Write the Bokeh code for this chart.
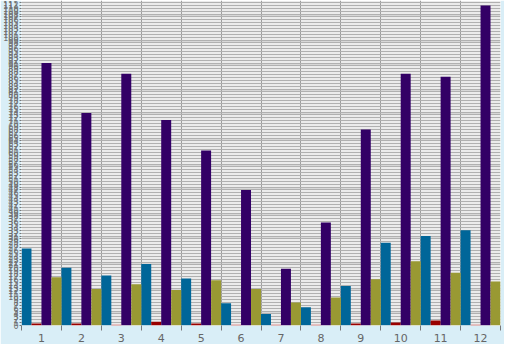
from bokeh.plotting import figure
from bokeh.models import ColumnDataSource, FixedTicker, Range1d
from bokeh.transform import dodge
from bokeh.embed import file_html
from bokeh.resources import INLINE

categories = ["1", "2", "3", "4", "5", "6", "7", "8", "9", "10", "11", "12"]
series_blue = [26.7, 20.0, 17.3, 21.3, 16.3, 7.7, 4.0, 6.3, 13.7, 28.7, 31.0, 33.0]
series_red = [0.7, 0.7, 0.3, 1.3, 0.7, 0.3, 0.3, 0.3, 0.7, 1.0, 1.7, 0.3]
series_purple = [91.0, 73.7, 87.3, 71.3, 60.7, 47.0, 19.7, 35.7, 68.0, 87.3, 86.3, 111.0]
series_olive = [16.7, 12.7, 14.3, 12.3, 15.7, 12.7, 8.0, 9.7, 16.0, 22.3, 18.3, 15.3]
y_ticks = list(range(0, 113))

centers = [i + 0.5 for i in range(len(categories))]
bounds = list(range(len(categories) + 1))

src = ColumnDataSource(dict(x=centers, blue=series_blue, red=series_red,
                            purple=series_purple, olive=series_olive))

BG = "#d9eef7"
p = figure(width=504, height=344, output_backend="svg", toolbar_location=None,
           x_range=Range1d(0, len(categories)), y_range=Range1d(0, 112.7),
           background_fill_color="white", border_fill_color=BG,
           min_border_left=17, min_border_right=4, min_border_top=0, min_border_bottom=18)
p.outline_line_color = None

w = 0.25
p.vbar(x=dodge("x", -0.375, range=p.x_range), top="blue", width=w, source=src,
       fill_color="#006699", line_color=None)
p.vbar(x=dodge("x", -0.125, range=p.x_range), top="red", width=w, source=src,
       fill_color="#990000", line_color=None)
p.vbar(x=dodge("x", 0.125, range=p.x_range), top="purple", width=w, source=src,
       fill_color="#330066", line_color=None)
p.vbar(x=dodge("x", 0.375, range=p.x_range), top="olive", width=w, source=src,
       fill_color="#999933", line_color=None)

# x axis: labels at centers, tick marks at category boundaries
xt = FixedTicker(ticks=centers, minor_ticks=bounds)
p.xaxis.ticker = xt
p.xaxis.major_label_overrides = {c: lab for c, lab in zip(centers, categories)}
p.xaxis.major_tick_out = 0
p.xaxis.major_tick_in = 0
p.xaxis.minor_tick_out = 5
p.xaxis.minor_tick_in = 0
p.xaxis.minor_tick_line_color = "#777777"
p.xaxis.axis_line_color = None
p.xaxis.major_label_text_color = "#666666"
p.xaxis.major_label_text_font = "DejaVu Sans"
p.xaxis.major_label_text_font_size = "11px"
p.xaxis.major_label_standoff = 3
p.xgrid.grid_line_color = None
p.xgrid.minor_grid_line_color = "#999999"
p.xgrid.minor_grid_line_width = 1

# y axis: dense ticks
yt = FixedTicker(ticks=y_ticks, minor_ticks=[])
p.yaxis.ticker = yt
p.yaxis.major_tick_out = 2
p.yaxis.major_tick_in = 0
p.yaxis.major_tick_line_color = "#777777"
p.yaxis.minor_tick_out = 0
p.yaxis.minor_tick_in = 0
p.yaxis.axis_line_color = None
p.yaxis.major_label_text_color = "#707070"
p.yaxis.major_label_text_font = "DejaVu Sans"
p.yaxis.major_label_text_font_size = "8px"
p.yaxis.major_label_standoff = 1
p.ygrid.grid_line_color = "#b0b0b0"
p.ygrid.grid_line_width = 1.6

open("out.html", "w").write(file_html(p, INLINE))
